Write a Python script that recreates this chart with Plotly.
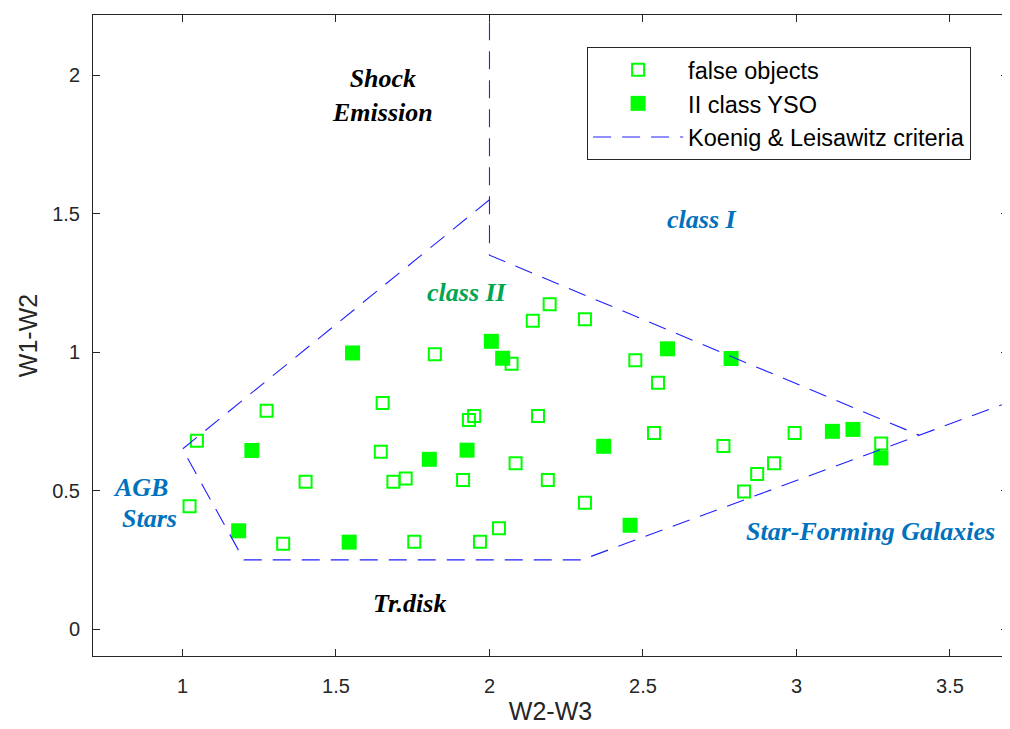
import plotly.graph_objects as go

# false objects (open squares)
false_x = [1.047, 1.274, 1.652, 1.646, 1.401, 1.687, 1.727, 1.023, 1.328, 2.196, 2.141, 2.311,
           1.822, 2.072, 2.475, 2.549, 1.950, 1.933, 2.158, 2.536, 2.085, 1.914, 2.190, 2.311,
           2.031, 1.755, 1.969, 2.762, 2.994, 2.927, 2.872, 2.829, 3.276]
false_y = [0.680, 0.788, 0.816, 0.640, 0.532, 0.532, 0.544, 0.444, 0.308, 1.173, 1.113, 1.119,
           0.992, 0.958, 0.971, 0.889, 0.769, 0.755, 0.769, 0.708, 0.599, 0.538, 0.538, 0.456,
           0.364, 0.315, 0.315, 0.661, 0.708, 0.599, 0.560, 0.497, 0.670]

# II class YSO (filled squares)
yso_x = [1.554, 1.226, 1.183, 1.543, 2.006, 2.043, 2.580, 1.804, 1.927, 2.372, 2.458, 2.787,
         3.117, 3.184, 3.275]
yso_y = [0.997, 0.645, 0.355, 0.314, 1.039, 0.978, 1.012, 0.613, 0.646, 0.660, 0.375, 0.977,
         0.714, 0.721, 0.618]

# Koenig & Leisawitz criteria boundaries (None separates segments)
crit_x = [2.0, 2.0, 3.4, None, 2.0, 1.0, 1.2, 2.3, 3.4, 4.0]
crit_y = [2.4, 1.35, 0.70, None, 1.55, 0.65, 0.25, 0.25, 0.70, 0.945]

# region labels
lab_text = ["Shock<br>Emission", "class I", "class II", "AGB", "Stars",
            "Star-Forming Galaxies", "Tr.disk"]
lab_x = [1.651, 2.692, 1.927, 0.862, 0.891, 3.240, 1.738]
lab_y = [1.926, 1.477, 1.217, 0.513, 0.401, 0.354, 0.094]
lab_col = ["#000000", "#0072BD", "#00A651", "#0072BD", "#0072BD", "#0072BD", "#000000"]

x_ticks = [1, 1.5, 2, 2.5, 3, 3.5]
y_ticks = [0, 0.5, 1, 1.5, 2]

fig = go.Figure()
fig.add_trace(go.Scatter(
    x=false_x, y=false_y, mode="markers", name="false objects",
    marker=dict(symbol="square-open", size=12, color="#00FF00", line=dict(width=2, color="#00FF00")),
    legendgroup="a"))
fig.add_trace(go.Scatter(
    x=yso_x, y=yso_y, mode="markers", name="II class YSO",
    marker=dict(symbol="square", size=15, color="#00FF00", line=dict(width=0)),
    legendgroup="b"))
fig.add_trace(go.Scatter(
    x=crit_x, y=crit_y, mode="lines", name="Koenig & Leisawitz criteria",
    line=dict(color="#2020FF", width=1.1, dash="18px,11px"), legendgroup="c"))

for t, x, y, c in zip(lab_text, lab_x, lab_y, lab_col):
    fig.add_annotation(x=x, y=y, text="<b><i>" + t + "</i></b>", showarrow=False,
                       font=dict(family="Liberation Serif, Times New Roman, serif", size=26, color=c),
                       xanchor="center", yanchor="middle")

axis_common = dict(
    showline=True, linecolor="#262626", linewidth=1, mirror="ticks",
    ticks="inside", ticklen=7, tickcolor="#262626", tickwidth=1,
    showgrid=False, zeroline=False, automargin=False,
    tickfont=dict(family="Liberation Sans, Arial, sans-serif", size=20, color="#262626"),
)

# page body has an 8px margin, so the figure is sized/offset to compensate
fig.update_layout(
    width=1002, height=721,
    margin=dict(l=85, r=2, t=7, b=73),
    paper_bgcolor="white", plot_bgcolor="white",
    xaxis=dict(range=[0.7085, 3.689], tickvals=x_ticks, ticklabelstandoff=12,
               title=dict(text="W2-W3", standoff=6,
                          font=dict(family="Liberation Sans, Arial, sans-serif", size=25, color="#262626")),
               **axis_common),
    yaxis=dict(range=[-0.097, 2.217], tickvals=y_ticks, ticklabelstandoff=8,
               title=dict(text="W1-W2", standoff=7,
                          font=dict(family="Liberation Sans, Arial, sans-serif", size=25, color="#262626")),
               **axis_common),
    legend=dict(x=0.540, y=0.950, xanchor="left", yanchor="top",
                bgcolor="white", bordercolor="#262626", borderwidth=1,
                font=dict(family="Liberation Sans, Arial, sans-serif", size=23.5, color="#000000"),
                itemwidth=90, tracegroupgap=0),
    showlegend=True,
)

fig.write_html("out.html")
